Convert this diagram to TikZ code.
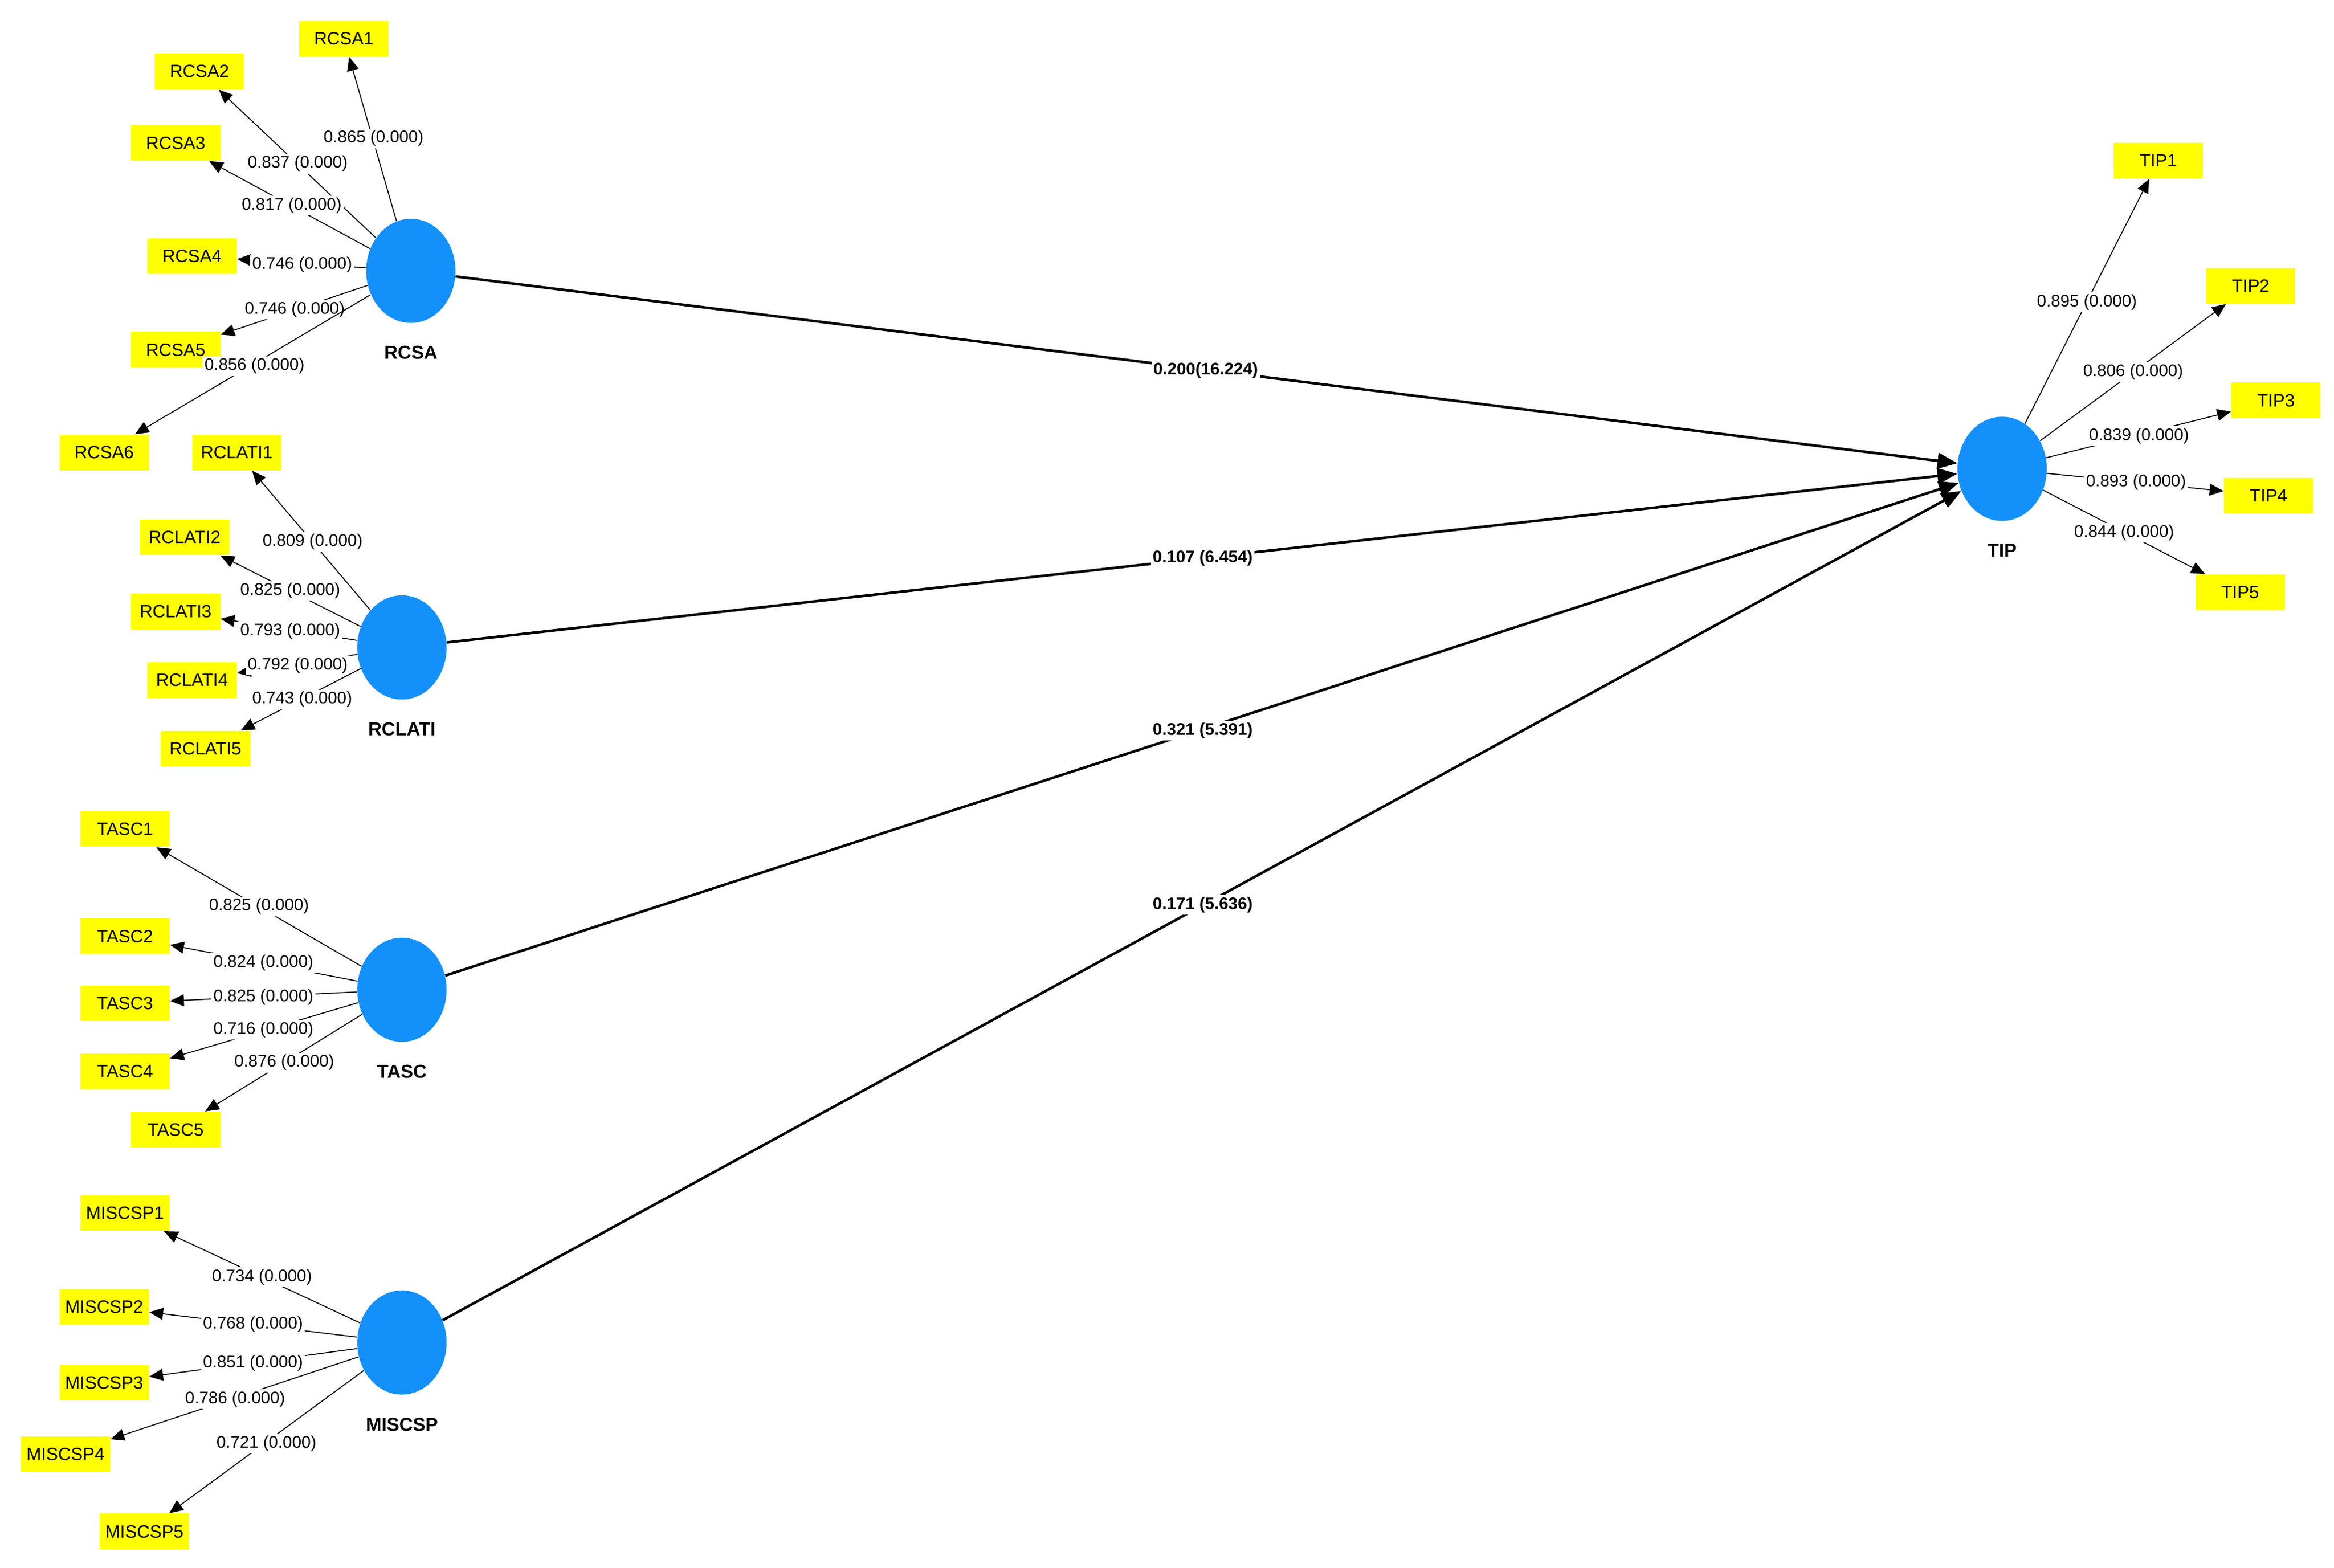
\documentclass[tikz,border=0pt]{standalone}
\usepackage{fontspec}
\setmainfont{Liberation Sans}
\usetikzlibrary{arrows.meta}
\definecolor{lat}{RGB}{20,144,250}
\definecolor{ind}{RGB}{255,255,0}
\begin{document}
\begin{tikzpicture}[x=0.02647cm,y=-0.02647cm,
 lv/.style={ellipse,draw=none,fill=lat,minimum width=60*0.02647cm,minimum height=70*0.02647cm,inner sep=0pt},
 box/.style={fill=ind,minimum width=60*0.02647cm,minimum height=24*0.02647cm,inner sep=1pt,font=\fontsize{9}{10}\selectfont},
 nm/.style={font=\fontsize{9.5}{11}\selectfont\bfseries},
 ld/.style={fill=white,inner sep=1pt,font=\fontsize{8.5}{10}\selectfont},
 pl/.style={fill=white,inner sep=1pt,font=\fontsize{8.5}{10}\selectfont\bfseries},
 lk/.style={draw,-{Triangle[length=7pt,width=6pt]},line width=0.5pt},
 pk/.style={draw,-{Triangle[length=10pt,width=8pt]},line width=1.3pt}]
\useasboundingbox (0,0) rectangle (1568,1053.5);
\usetikzlibrary{shapes.geometric}
% latent
\node[lv] (RCSA) at (276,182) {};
\node[lv] (RCLATI) at (270,435) {};
\node[lv] (TASC) at (270,665) {};
\node[lv] (MISCSP) at (270,902) {};
\node[lv] (TIP) at (1345,315) {};
\node[nm] at (276,237) {RCSA};
\node[nm] at (270,490) {RCLATI};
\node[nm] at (270,720) {TASC};
\node[nm] at (270,957) {MISCSP};
\node[nm] at (1345,370) {TIP};
% indicators
\foreach \n/\x/\y in {RCSA1/231/26,RCSA2/134/48,RCSA3/118/96,RCSA4/129/172,RCSA5/118/235,RCSA6/70/304,
 RCLATI1/159/304,RCLATI2/124/361,RCLATI3/118/411,RCLATI4/129/457,RCLATI5/138/503,
 TASC1/84/557,TASC2/84/629,TASC3/84/674,TASC4/84/720,TASC5/118/759,
 MISCSP1/84/815,MISCSP2/70/878,MISCSP3/70/929,MISCSP4/44/977,MISCSP5/97/1029,
 TIP1/1450/108,TIP2/1512/192,TIP3/1529/269,TIP4/1524/333,TIP5/1505/398}
 \node[box] (\n) at (\x,\y) {\n};
% loadings
\foreach \l/\t/\v/\x/\y in {RCSA/RCSA1/0.865/251/93,RCSA/RCSA2/0.837/200/110,RCSA/RCSA3/0.817/196/138,RCSA/RCSA4/0.746/203/178,RCSA/RCSA5/0.746/198/208,RCSA/RCSA6/0.856/171/246,
 RCLATI/RCLATI1/0.809/210/364,RCLATI/RCLATI2/0.825/195/397,RCLATI/RCLATI3/0.793/195/424,RCLATI/RCLATI4/0.792/200/447,RCLATI/RCLATI5/0.743/203/470,
 TASC/TASC1/0.825/174/609,TASC/TASC2/0.824/177/647,TASC/TASC3/0.825/177/670,TASC/TASC4/0.716/177/692,TASC/TASC5/0.876/191/714,
 MISCSP/MISCSP1/0.734/176/858,MISCSP/MISCSP2/0.768/170/890,MISCSP/MISCSP3/0.851/170/916,MISCSP/MISCSP4/0.786/158/940,MISCSP/MISCSP5/0.721/179/970,
 TIP/TIP1/0.895/1402/203,TIP/TIP2/0.806/1433/250,TIP/TIP3/0.839/1437/293,TIP/TIP4/0.893/1435/324,TIP/TIP5/0.844/1427/358}
 {\draw[lk] (\l) -- (\t);
  \node[ld] at (\x,\y) {\v\ (0.000)};}
% paths
\draw[pk] (RCSA) -- (TIP);
\draw[pk] (RCLATI) -- (TIP);
\draw[pk] (TASC) -- (TIP);
\draw[pk] (MISCSP) -- (TIP);
\node[pl] at (810,249) {0.200(16.224)};
\node[pl] at (808,375) {0.107 (6.454)};
\node[pl] at (808,491) {0.321 (5.391)};
\node[pl] at (808,608) {0.171 (5.636)};
\end{tikzpicture}
\end{document}
